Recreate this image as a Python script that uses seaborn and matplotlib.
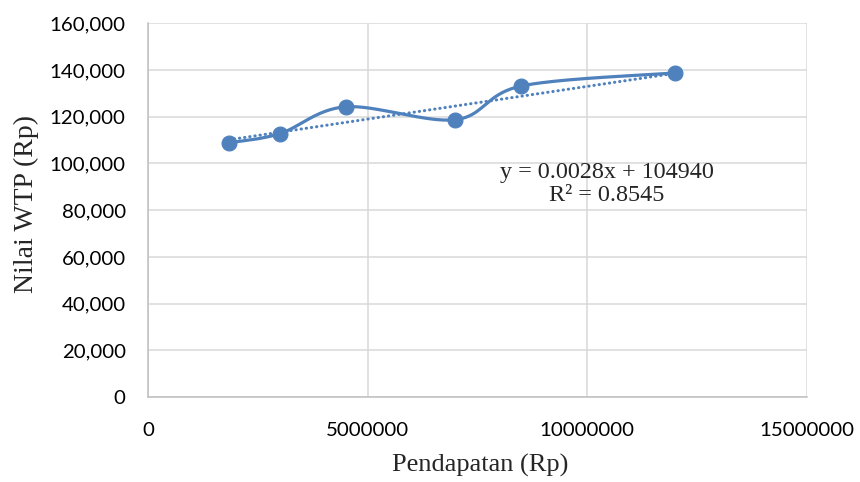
import numpy as np
import pandas as pd
import matplotlib
matplotlib.use("Agg")
import matplotlib.pyplot as plt
import seaborn as sns

# Income (Rp) vs. willingness-to-pay (Rp)
pendapatan = [1850000, 3000000, 4500000, 7000000, 8500000, 12000000]
nilai_wtp = [108800, 112700, 124200, 118700, 133100, 138700]

x_ticks = [0, 5000000, 10000000, 15000000]
x_tick_labels = ["0", "5000000", "10000000", "15000000"]
y_ticks = [0, 20000, 40000, 60000, 80000, 100000, 120000, 140000, 160000]
y_tick_labels = ["0", "20,000", "40,000", "60,000", "80,000", "100,000",
                 "120,000", "140,000", "160,000"]

trend_slope = 0.0028
trend_intercept = 104940
r_squared = 0.8545

blue = "#4F81BD"
grid = "#D9D9D9"


def smooth_curve(xs, ys, n=40):
    """Catmull-Rom style Bezier smoothing through the given points."""
    xs = np.asarray(xs, float)
    ys = np.asarray(ys, float)
    px = np.concatenate([[xs[0]], xs, [xs[-1]]])
    py = np.concatenate([[ys[0]], ys, [ys[-1]]])
    out_x, out_y = [], []
    t = np.linspace(0, 1, n)
    for i in range(1, len(px) - 2):
        p0 = np.array([px[i], py[i]])
        p3 = np.array([px[i + 1], py[i + 1]])
        c1 = p0 + (np.array([px[i + 1], py[i + 1]]) - np.array([px[i - 1], py[i - 1]])) / 6
        c2 = p3 - (np.array([px[i + 2], py[i + 2]]) - np.array([px[i], py[i]])) / 6
        b = ((1 - t) ** 3)[:, None] * p0 + (3 * (1 - t) ** 2 * t)[:, None] * c1 \
            + (3 * (1 - t) * t ** 2)[:, None] * c2 + (t ** 3)[:, None] * p3
        out_x.extend(b[:, 0])
        out_y.extend(b[:, 1])
    return np.array(out_x), np.array(out_y)


sns.set_theme(style="white")
plt.rcParams["font.family"] = ["Lato", "DejaVu Sans"]

fig = plt.figure(figsize=(8.6, 4.82), dpi=100)
ax = fig.add_axes([0.172, 0.176, 0.766, 0.776])

df = pd.DataFrame({"Pendapatan": pendapatan, "WTP": nilai_wtp})

# Smoothed series line
sx, sy = smooth_curve(pendapatan, nilai_wtp)
curve = pd.DataFrame({"x": sx, "y": sy})
sns.lineplot(data=curve, x="x", y="y", ax=ax, color=blue, linewidth=2.3,
             sort=False, estimator=None, zorder=3)

# Linear trendline
tx = np.array([min(pendapatan), max(pendapatan)])
trend = pd.DataFrame({"x": tx, "y": trend_slope * tx + trend_intercept})
sns.lineplot(data=trend, x="x", y="y", ax=ax, color=blue, linewidth=2.2,
             linestyle=(0, (0.1, 1.6)), dash_capstyle="round", zorder=2)

# Data markers
sns.scatterplot(data=df, x="Pendapatan", y="WTP", ax=ax, color=blue, s=115,
                edgecolor=blue, linewidth=0.8, zorder=4)

ax.set_xlim(0, 15000000)
ax.set_ylim(0, 160000)
ax.set_xticks(x_ticks)
ax.set_xticklabels(x_tick_labels)
ax.set_yticks(y_ticks)
ax.set_yticklabels(y_tick_labels)
ax.tick_params(axis="both", length=0, labelsize=14.7, colors="#000000")
ax.tick_params(axis="x", pad=18)
ax.tick_params(axis="y", pad=16)

ax.grid(True, color=grid, linewidth=1.1)
ax.set_axisbelow(True)
for side in ["top", "right"]:
    ax.spines[side].set_visible(False)
for side in ["left", "bottom"]:
    ax.spines[side].set_color("#BFBFBF")
    ax.spines[side].set_linewidth(1.1)

serif = ["Liberation Serif", "DejaVu Serif"]
ax.set_xlabel("Pendapatan (Rp)", family=serif, fontsize=19, va="center")
ax.set_ylabel("Nilai WTP (Rp)", family=serif, fontsize=20, va="center")
ax.xaxis.set_label_coords(0.504, -0.182)
ax.yaxis.set_label_coords(-0.185, 0.516)

ax.text(10450000, 91300,
        f"y = {trend_slope}x + {trend_intercept}\nR² = {r_squared}",
        family=serif, fontsize=17.4, ha="center", va="center",
        linespacing=1.1, zorder=5)

fig.savefig("out.png", dpi=100)
